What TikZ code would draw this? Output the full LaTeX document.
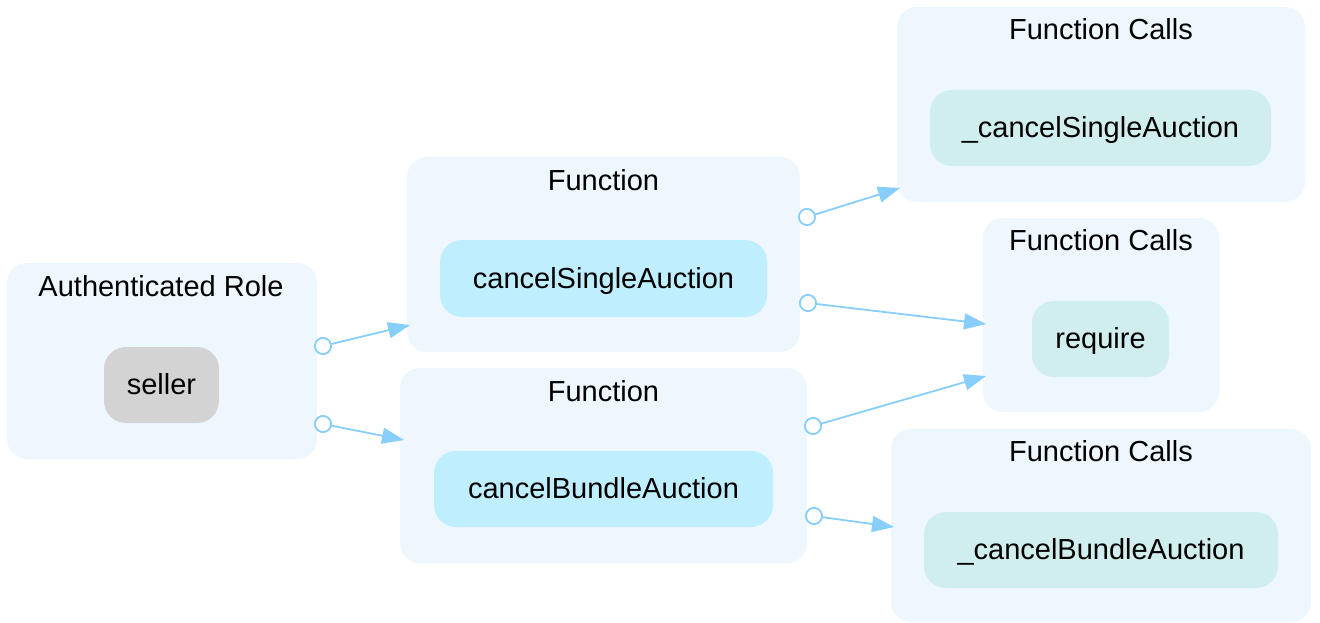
\documentclass[tikz,border=0pt]{standalone}
\usepackage{fontspec}
\setmainfont{Liberation Sans}
\usetikzlibrary{arrows.meta}
\definecolor{clusterfill}{HTML}{EEF6FE}
\definecolor{rolefill}{HTML}{D3D3D3}
\definecolor{funcfill}{HTML}{BFEFFF}
\definecolor{callfill}{HTML}{D1EEEE}
\definecolor{edgecol}{HTML}{87CEFA}
\tikzset{
  txt/.style={font=\fontsize{29}{34}\selectfont, text height=19pt, text depth=0pt, inner sep=0pt},
  cluster/.style={fill=clusterfill, draw=none, rounded corners=20pt, inner sep=0pt},
  box/.style={txt, rounded corners=22pt, draw=none},
  rolebox/.style={box, fill=rolefill},
  funcbox/.style={box, fill=funcfill},
  callbox/.style={box, fill=callfill},
  link/.style={draw=edgecol, line width=1.8pt, shorten <=-9pt,
    {Circle[fill=white, length=18pt, width=18pt, line width=1.8pt]}-{Triangle[length=22pt, width=16pt]}}
}
\begin{document}
\begin{tikzpicture}[x=1pt, y=-1pt]
\useasboundingbox (0,0) rectangle (1320,623);

% clusters
\node[cluster, minimum width=310pt, minimum height=196pt] (roleC) at (162,361) {};
\node[cluster, minimum width=393pt, minimum height=195pt] (fn1C) at (603.5,254.5) {};
\node[cluster, minimum width=407pt, minimum height=195pt] (fn2C) at (603.5,465.5) {};
\node[cluster, minimum width=408pt, minimum height=195pt] (call1C) at (1101,104.5) {};
\node[cluster, minimum width=236pt, minimum height=194pt] (call2C) at (1101,315) {};
\node[cluster, minimum width=420pt, minimum height=193pt] (call3C) at (1101,525.5) {};

% cluster titles
\node[txt] (roleT) at (161,286.5) {Authenticated Role};
\node[txt] (fn1T) at (603.5,181) {Function};
\node[txt] (fn2T) at (603.5,391.5) {Function};
\node[txt] (call1T) at (1101,30.5) {Function Calls};
\node[txt] (call2T) at (1101,241) {Function Calls};
\node[txt] (call3T) at (1101,451.5) {Function Calls};

% inner nodes
\node[rolebox, minimum width=115pt, minimum height=76pt] (seller) at (161.5,385) {seller};
\node[funcbox, minimum width=327pt, minimum height=77pt] (cancelSingle) at (603.5,278.5) {cancelSingleAuction};
\node[funcbox, minimum width=339pt, minimum height=76pt] (cancelBundle) at (603.5,489) {cancelBundleAuction};
\node[callbox, minimum width=341pt, minimum height=76pt] (innerSingle) at (1100.5,128) {\_cancelSingleAuction};
\node[callbox, minimum width=137pt, minimum height=76pt] (require) at (1100.5,339) {require};
\node[callbox, minimum width=354pt, minimum height=76pt] (innerBundle) at (1101,550) {\_cancelBundleAuction};

% connector end points on the cluster borders
\coordinate (s1) at (323,346);   \coordinate (t1) at (410,325);
\coordinate (s2) at (323,424);   \coordinate (t2) at (404,440);
\coordinate (s3) at (807,217);   \coordinate (t3) at (900,188);
\coordinate (s4) at (808,303);   \coordinate (t4) at (986,324);
\coordinate (s5) at (813,426);   \coordinate (t5) at (986,376);
\coordinate (s6) at (814,516);   \coordinate (t6) at (894,527);

\draw[link] (s1) -- (t1);
\draw[link] (s2) -- (t2);
\draw[link] (s3) -- (t3);
\draw[link] (s4) -- (t4);
\draw[link] (s5) -- (t5);
\draw[link] (s6) -- (t6);
\end{tikzpicture}
\end{document}
